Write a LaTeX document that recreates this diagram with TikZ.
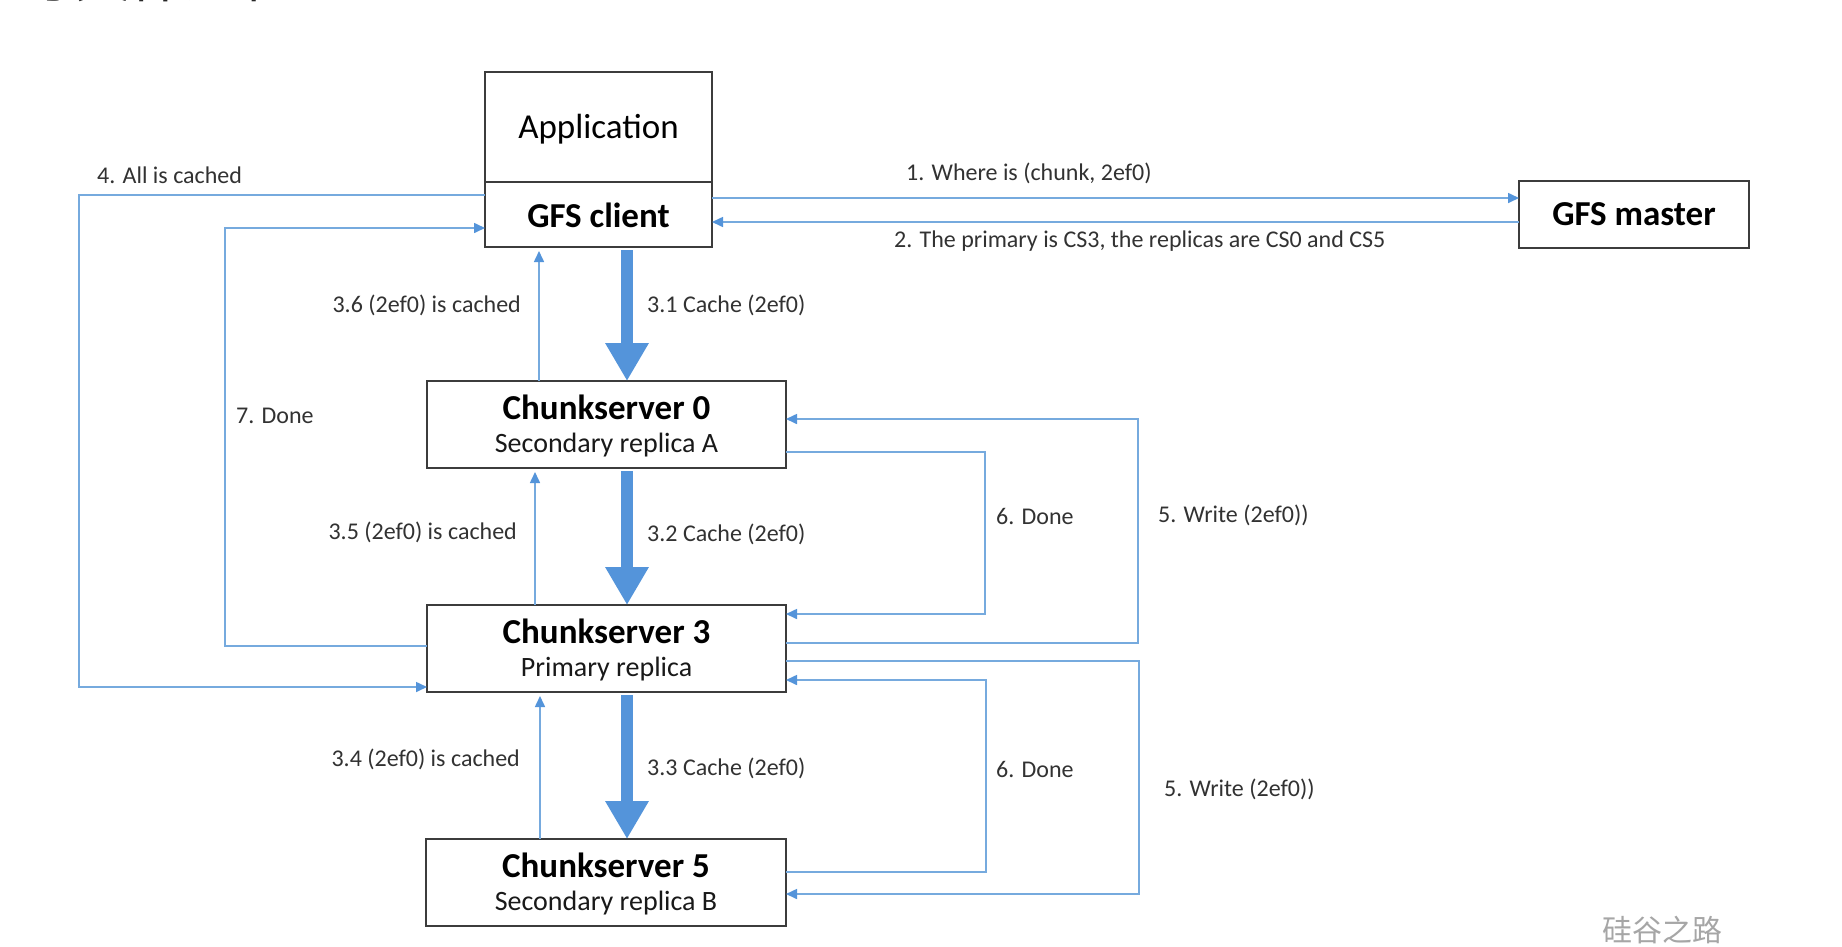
\documentclass[tikz,border=0pt]{standalone}
\usepackage{fontspec}
\setmainfont{Carlito}
\newfontfamily\cjkfont{Noto Sans CJK SC}
\usetikzlibrary{arrows.meta}
\definecolor{thinblue}{RGB}{118,170,222}
\definecolor{thickblue}{RGB}{84,148,218}
\definecolor{boxline}{RGB}{60,60,60}
\definecolor{labeltext}{RGB}{50,50,50}
\begin{document}
\begin{tikzpicture}[x=1pt,y=-1pt,
  boxnode/.style={draw=boxline,line width=1.8pt,fill=white,inner sep=0pt,outer sep=0pt},
  boldtext/.style={anchor=base,inner sep=0pt,font=\fontsize{35}{40}\selectfont\bfseries,text=black},
  apptext/.style={anchor=base,inner sep=0pt,font=\fontsize{35}{40}\selectfont,text=black},
  subtext/.style={anchor=base,inner sep=0pt,font=\fontsize{28}{32}\selectfont,text=black!90},
  lbl/.style={inner sep=0pt,font=\fontsize{24}{28}\selectfont,text=labeltext},
  thinarrow/.style={draw=thinblue,line width=1.6pt,-{Triangle[length=11pt,width=10pt,color=thickblue]}},
  thickarrow/.style={draw=thickblue,line width=12pt,-{Triangle[length=38pt,width=41pt]}}
]
\useasboundingbox (0,0) rectangle (1842,946);
\fill[white] (0,0) rectangle (1842,946);

% cut-off title
\node[anchor=base west,inner sep=0pt,font=\cjkfont\fontsize{55}{60}\selectfont,text=black!85] (title) at (20,-3) {写文件过程};

% boxes
\node[boxnode,minimum width=227,minimum height=110] (app) at (598.5,127) {};
\node[boxnode,minimum width=227,minimum height=65] (client) at (598.5,214.5) {};
\node[boxnode,minimum width=230,minimum height=67] (master) at (1634,214.5) {};
\node[boxnode,minimum width=359,minimum height=87] (cs0) at (606.5,424.5) {};
\node[boxnode,minimum width=359,minimum height=87] (cs3) at (606.5,648.5) {};
\node[boxnode,minimum width=360,minimum height=87] (cs5) at (606,882.5) {};

\node[apptext] (appt) at (598.5,138) {Application};
\node[boldtext] (clientt) at (598.5,227) {GFS client};
\node[boldtext] (mastert) at (1634,225) {GFS master};
\node[boldtext] (cs0t) at (606.5,419) {Chunkserver 0};
\node[subtext] (cs0s) at (606.5,452) {Secondary replica A};
\node[boldtext] (cs3t) at (606.5,643) {Chunkserver 3};
\node[subtext] (cs3s) at (606.5,676) {Primary replica};
\node[boldtext] (cs5t) at (606,877) {Chunkserver 5};
\node[subtext] (cs5s) at (606,910) {Secondary replica B};

% x reference coordinates
\coordinate (xt) at (627,0);
\coordinate (xa) at (539,0);
\coordinate (xb) at (535,0);
\coordinate (xc) at (540,0);
\coordinate (x4) at (79,400);
\coordinate (x7) at (225,400);

% thick cache arrows
\draw[thickarrow,shorten <=3pt] (xt |- client.south) -- (xt |- cs0.north);
\draw[thickarrow,shorten <=3pt] (xt |- cs0.south) -- (xt |- cs3.north);
\draw[thickarrow,shorten <=3pt] (xt |- cs3.south) -- (xt |- cs5.north);

% thin "is cached" arrows
\draw[thinarrow,shorten >=4pt] (xa |- cs0.north) -- (xa |- client.south);
\draw[thinarrow,shorten >=4pt] (xb |- cs3.north) -- (xb |- cs0.south);
\draw[thinarrow,shorten >=4pt] (xc |- cs5.north) -- (xc |- cs3.south);

% client <-> master
\draw[thinarrow] ([yshift=16.5pt]client.east) -- ([yshift=16.5pt]master.west);
\draw[thinarrow] ([yshift=-7.5pt]master.west) -- ([yshift=-7.5pt]client.east);

% 4. All is cached
\draw[thinarrow] ([yshift=19.5pt]client.west) -| (x4) |- ([yshift=-38.5pt]cs3.west);
% 7. Done
\draw[thinarrow] ([yshift=2.5pt]cs3.west) -| (x7) |- ([yshift=-13.5pt]client.west);

% 5. Write upper
\draw[thinarrow] ([yshift=5.5pt]cs3.east) -- ++(352,0) |- ([yshift=5.5pt]cs0.east);
% 6. Done upper
\draw[thinarrow] ([yshift=-27.5pt]cs0.east) -- ++(199,0) |- ([yshift=34.5pt]cs3.east);
% 5. Write lower
\draw[thinarrow] ([yshift=-12.5pt]cs3.east) -- ++(353,0) |- ([yshift=-11.5pt]cs5.east);
% 6. Done lower
\draw[thinarrow] ([yshift=10.5pt]cs5.east) -- ++(200,0) |- ([yshift=-31.5pt]cs3.east);

% labels
\node[lbl,anchor=base west] (l1) at (906,180) {1. Where is (chunk, 2ef0)};
\node[lbl,anchor=base west] (l2) at (894,247) {2. The primary is CS3, the replicas are CS0 and CS5};
\node[lbl,anchor=base west] (l4) at (97,183) {4. All is cached};
\node[lbl,anchor=base west] (l7) at (236,423) {7. Done};
\node[lbl,anchor=base east] (l36) at (521,312) {3.6 (2ef0) is cached};
\node[lbl,anchor=base west] (l31) at (647,312) {3.1 Cache (2ef0)};
\node[lbl,anchor=base east] (l35) at (517,539) {3.5 (2ef0) is cached};
\node[lbl,anchor=base west] (l32) at (647,541) {3.2 Cache (2ef0)};
\node[lbl,anchor=base east] (l34) at (520,766) {3.4 (2ef0) is cached};
\node[lbl,anchor=base west] (l33) at (647,775) {3.3 Cache (2ef0)};
\node[lbl,anchor=base west] (l6a) at (996,524) {6. Done};
\node[lbl,anchor=base west] (l5a) at (1158,522) {5. Write (2ef0))};
\node[lbl,anchor=base west] (l6b) at (996,777) {6. Done};
\node[lbl,anchor=base west] (l5b) at (1164,796) {5. Write (2ef0))};

% watermark
\node[inner sep=0pt,font=\cjkfont\fontsize{30}{34}\selectfont,text=black!35] (wm) at (1662,930) {硅谷之路};
\end{tikzpicture}
\end{document}
